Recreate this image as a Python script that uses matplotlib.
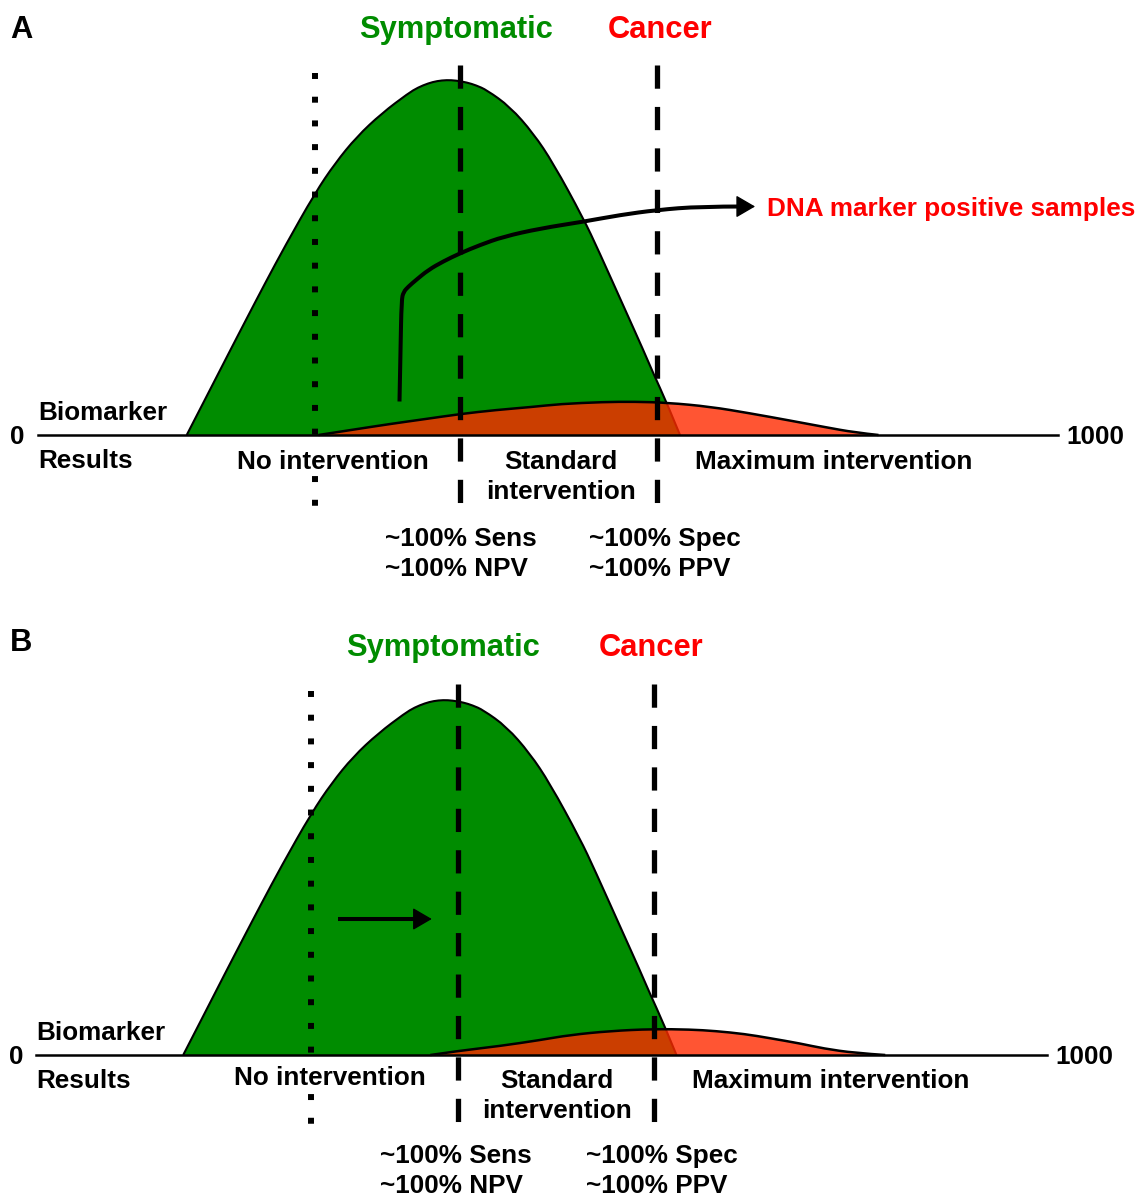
# Biomarker result distributions: symptomatic vs cancer, two cut-off scenarios.

import matplotlib
matplotlib.use("Agg")
import matplotlib.pyplot as plt
from matplotlib.path import Path
from matplotlib.patches import PathPatch

plt.rcParams['font.family'] = ['Liberation Sans', 'DejaVu Sans']
plt.rcParams['font.weight'] = 'bold'

# Panel A: biomarker result (0-1000) vs relative frequency
green_a_x = [145.8, 167.0, 186.6, 204.6, 222.5, 242.2, 271.6, 291.2, 312.5, 337.0, 363.0, 372.5,
             382.6, 391.2, 400.7, 409.8, 420.6, 429.4, 439.9, 462.7, 485.6, 505.2, 534.6, 549.3,
             577.2, 593.4, 603.2, 616.4, 629.4]
green_a_y = [0, 42, 81, 116.5, 151.5, 189, 242, 271.7, 298.3, 321.7, 341.7, 347.5,
             351.7, 354, 355, 354.5, 352.5, 349.7, 345, 328.3, 301.7, 271.7, 216.7, 185,
             121.7, 85, 61.7, 32.3, 0]
red_a_x = [275, 310, 345, 380, 414, 449, 484, 512, 554, 585, 617, 659, 698, 737, 771, 801, 824]
red_a_y = [0, 5.5, 11, 16, 21, 25, 28, 31, 33, 33.3, 32.3, 28.3, 21.7, 14.5, 8, 2.5, 0]
arrow_a_x = [354.4, 355.4, 356.4, 358.3, 363.0, 370.6, 382.6, 397.1, 413.7, 433.3, 456.2, 492.2,
             534.6, 570.6, 606.6, 649.0, 692.2]
arrow_a_y = [33.5, 85, 135, 143, 148.3, 155, 165, 173.5, 181.7, 190, 198.3, 206.5,
             213.3, 220, 225, 228.5, 228.5]

# Panel B
green_b_x = [145.6, 167.0, 186.7, 204.9, 223.0, 242.8, 272.5, 292.3, 313.7, 338.5, 364.8, 374.4,
             384.6, 393.2, 402.8, 412.0, 422.8, 431.7, 442.3, 465.4, 488.4, 508.2, 537.9, 552.7,
             580.8, 597.2, 607.1, 620.4, 633.5]
green_b_y = [0, 42, 81, 116.5, 151.5, 189, 242, 271.7, 298.3, 321.7, 341.7, 347.5,
             351.7, 354, 355, 354.5, 352.5, 349.7, 345, 328.3, 301.7, 271.7, 216.7, 185,
             121.7, 85, 61.7, 32.3, 0]
red_b_x = [390, 417, 459, 499, 528, 568, 610, 647, 672, 701, 725, 756, 779, 810, 840]
red_b_y = [0, 4, 9, 15, 20, 24, 26, 25.5, 24, 21, 17, 11.5, 6.5, 2, 0]
arrow_b_x = [298.7, 380.0]
arrow_b_y = [136, 136]

# Cut-offs
no_intervention_cut = 272
cutoffs_a = [414, 607]
cutoffs_b = [417, 611]

region_labels = ["No intervention", "Standard\nintervention", "Maximum intervention"]
stat_labels = ["~100% Sens\n~100% NPV", "~100% Spec\n~100% PPV"]

GREEN = "#008C00"
RED = "#FF2B00"
LABEL_SIZE = 18.8
TITLE_SIZE = 22.2
SPACING = 1.33


def smooth_path(xs, ys):
    # Quadratic bezier chain through the read points (corners rounded)
    pts = list(zip(xs, ys))
    verts = [pts[0]]
    codes = [Path.MOVETO]
    if len(pts) == 2:
        return Path(pts, [Path.MOVETO, Path.LINETO])
    for i in range(1, len(pts) - 1):
        if i == len(pts) - 2:
            end = pts[-1]
        else:
            end = ((pts[i][0] + pts[i + 1][0]) / 2, (pts[i][1] + pts[i + 1][1]) / 2)
        verts += [pts[i], end]
        codes += [Path.CURVE3, Path.CURVE3]
    return Path(verts, codes)


def draw_panel(ax, green_x, green_y, red_x, red_y, cutoffs, dot_span, dash_span):

    # Distributions
    ax.add_patch(PathPatch(smooth_path(green_x, green_y), facecolor=GREEN,
                           edgecolor="black", lw=1.5, zorder=1))
    red_path = smooth_path(red_x, red_y)
    ax.add_patch(PathPatch(red_path, facecolor=RED, alpha=0.8, edgecolor="none", zorder=2))
    ax.add_patch(PathPatch(red_path, fill=False, edgecolor="black", lw=1.8, zorder=3))

    # Baseline
    ax.plot([0, 1000], [0, 0], color="black", lw=1.8, zorder=3)

    # Cut-off lines
    ax.plot([no_intervention_cut, no_intervention_cut], dot_span, color="black",
            lw=4.3, dashes=(1.0, 2.97), zorder=4)
    for c in cutoffs:
        ax.plot([c, c], dash_span, color="black", lw=3.8, dashes=(4.4, 3.45), zorder=4)

    # Axis texts
    ax.text(-20, -2, "0", fontsize=LABEL_SIZE, ha="center", va="center")
    ax.text(1008, -2, "1000", fontsize=LABEL_SIZE, ha="left", va="center")
    ax.text(0, 22, "Biomarker", fontsize=LABEL_SIZE, ha="left", va="center")
    ax.text(0, -26, "Results", fontsize=LABEL_SIZE, ha="left", va="center")

    ax.set_axis_off()


def arrow_head(ax, tail, tip):
    ax.annotate("", xy=tip, xytext=tail,
                arrowprops=dict(arrowstyle="-|>,head_length=0.6,head_width=0.35",
                                color="black", lw=1.0, shrinkA=0, shrinkB=0,
                                mutation_scale=20), zorder=5)


def main():

    fig = plt.figure(figsize=(11.38, 11.97), dpi=100)

    # Panel A
    ax_a = fig.add_axes([0, 597 / 1197, 1, 600 / 1197])
    ax_a.set_xlim(-37.25, 1078.4)
    ax_a.set_ylim(-165, 435)
    draw_panel(ax_a, green_a_x, green_a_y, red_a_x, red_a_y, cutoffs_a,
               [362.3, -73], [370, -70])

    ax_a.add_patch(PathPatch(smooth_path(arrow_a_x, arrow_a_y), fill=False, edgecolor="black",
                             lw=2.9, capstyle="butt", zorder=5))
    arrow_head(ax_a, (arrow_a_x[-1], arrow_a_y[-1]), (703, arrow_a_y[-1]))
    ax_a.text(714.7, 226, "DNA marker positive samples", color="#FF0000",
              fontsize=LABEL_SIZE, ha="left", va="center")

    ax_a.text(-27.5, 405, "A", fontsize=TITLE_SIZE, ha="left", va="center")
    ax_a.text(409.8, 405, "Symptomatic", color=GREEN, fontsize=TITLE_SIZE, ha="center", va="center")
    ax_a.text(609.8, 405, "Cancer", color="#FF0000", fontsize=TITLE_SIZE, ha="center", va="center")

    ax_a.text(289.2, -27, region_labels[0], fontsize=LABEL_SIZE, ha="center", va="center",
              zorder=6, bbox=dict(facecolor="white", edgecolor="none", pad=0))
    ax_a.text(512.7, -42, region_labels[1], fontsize=LABEL_SIZE, ha="center", va="center",
              linespacing=SPACING)
    ax_a.text(780.4, -27, region_labels[2], fontsize=LABEL_SIZE, ha="center", va="center")
    ax_a.text(340.2, -119, stat_labels[0], fontsize=LABEL_SIZE, ha="left", va="center",
              linespacing=SPACING)
    ax_a.text(540.2, -119, stat_labels[1], fontsize=LABEL_SIZE, ha="left", va="center",
              linespacing=SPACING)

    # Panel B
    ax_b = fig.add_axes([0, 0, 1, 597 / 1197])
    ax_b.set_xlim(-35.6, 1090.0)
    ax_b.set_ylim(-142, 455)
    draw_panel(ax_b, green_b_x, green_b_y, red_b_x, red_b_y, cutoffs_b,
               [364, -71], [371, -69])

    ax_b.plot(arrow_b_x, arrow_b_y, color="black", lw=2.9, zorder=5, solid_capstyle="butt")
    arrow_head(ax_b, (arrow_b_x[-1], arrow_b_y[-1]), (391.5, arrow_b_y[-1]))

    ax_b.text(-25.7, 412, "B", fontsize=TITLE_SIZE, ha="left", va="center")
    ax_b.text(402.6, 407, "Symptomatic", color=GREEN, fontsize=TITLE_SIZE, ha="center", va="center")
    ax_b.text(608.3, 407, "Cancer", color="#FF0000", fontsize=TITLE_SIZE, ha="center", va="center")

    ax_b.text(290.8, -23, region_labels[0], fontsize=LABEL_SIZE, ha="center", va="center",
              zorder=6, bbox=dict(facecolor="white", edgecolor="none", pad=0))
    ax_b.text(515.3, -41, region_labels[1], fontsize=LABEL_SIZE, ha="center", va="center",
              linespacing=SPACING)
    ax_b.text(786.3, -26, region_labels[2], fontsize=LABEL_SIZE, ha="center", va="center")
    ax_b.text(340.2, -116, stat_labels[0], fontsize=LABEL_SIZE, ha="left", va="center",
              linespacing=1.3)
    ax_b.text(544.3, -116, stat_labels[1], fontsize=LABEL_SIZE, ha="left", va="center",
              linespacing=1.3)

    fig.savefig("out.png", dpi=100)


if __name__ == "__main__":
    main()
